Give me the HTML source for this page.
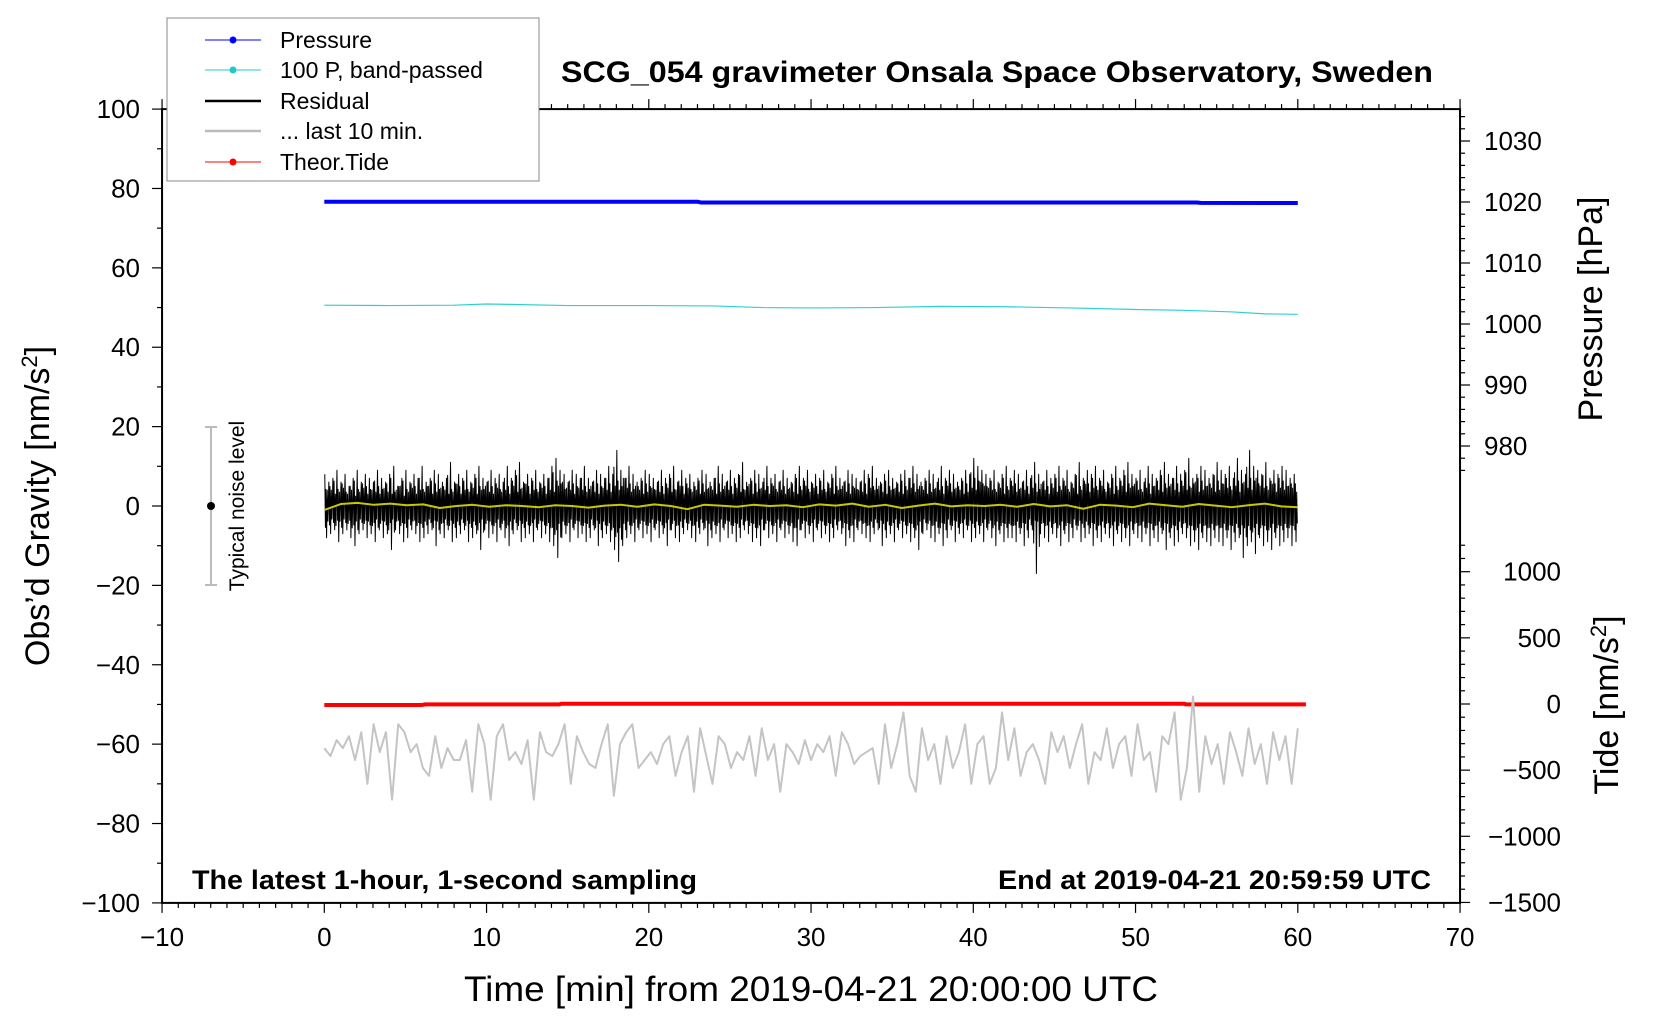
<!DOCTYPE html>
<html><head><meta charset="utf-8"><style>
html,body{margin:0;padding:0;background:#fff;}
svg{display:block;font-family:"Liberation Sans",Arial,sans-serif;}
</style></head><body>
<svg id="chart" width="1660" height="1020" viewBox="0 0 1660 1020" xmlns="http://www.w3.org/2000/svg">
<g id="axes"></g>
<g id="series"></g>
<text x="561" y="82" textLength="872" lengthAdjust="spacingAndGlyphs" font-size="30" font-weight="bold">SCG_054 gravimeter Onsala Space Observatory, Sweden</text>
<text x="192" y="889" textLength="505" lengthAdjust="spacingAndGlyphs" font-size="27" font-weight="bold">The latest 1‑hour, 1‑second sampling</text>
<text x="998" y="889" textLength="433" lengthAdjust="spacingAndGlyphs" font-size="27" font-weight="bold">End at 2019‑04‑21 20:59:59 UTC</text>
<text x="464" y="1001" textLength="694" lengthAdjust="spacingAndGlyphs" font-size="35">Time [min] from 2019‑04‑21 20:00:00 UTC</text>
<text transform="translate(49,506) rotate(-90)" text-anchor="middle" font-size="34">Obs’d Gravity [nm/s<tspan dy="-12" font-size="22">2</tspan><tspan dy="12">]</tspan></text>
<text transform="translate(1602,309) rotate(-90)" text-anchor="middle" font-size="34">Pressure [hPa]</text>
<text transform="translate(1618,705) rotate(-90)" text-anchor="middle" font-size="34">Tide [nm/s<tspan dy="-12" font-size="22">2</tspan><tspan dy="12">]</tspan></text>
<g>
<rect x="167" y="18" width="372" height="163" fill="#fff" stroke="#888" stroke-width="1"/>
<g><line x1="205" y1="40" x2="261" y2="40" stroke="#0000ff" stroke-width="1"/><circle cx="233" cy="40" r="3.5" fill="#0000ff"/><text x="280" y="48" font-size="23">Pressure</text></g>
<g><line x1="205" y1="70" x2="261" y2="70" stroke="#20c8c8" stroke-width="1"/><circle cx="233" cy="70" r="3.5" fill="#20c8c8"/><text x="280" y="78" font-size="23">100 P, band‑passed</text></g>
<g><line x1="205" y1="101" x2="261" y2="101" stroke="#000" stroke-width="2.5"/><text x="280" y="109" font-size="23">Residual</text></g>
<g><line x1="205" y1="131" x2="261" y2="131" stroke="#bbb" stroke-width="2.5"/><text x="280" y="139" font-size="23">... last 10 min.</text></g>
<g><line x1="205" y1="162" x2="261" y2="162" stroke="#ff0000" stroke-width="1"/><circle cx="233" cy="162" r="3.5" fill="#ff0000"/><text x="280" y="170" font-size="23">Theor.Tide</text></g>
</g>
<g>
<line x1="211" y1="427" x2="211" y2="585" stroke="#bbb" stroke-width="2"/>
<line x1="205" y1="427" x2="217" y2="427" stroke="#bbb" stroke-width="2"/>
<line x1="205" y1="585" x2="217" y2="585" stroke="#bbb" stroke-width="2"/>
<circle cx="211" cy="506" r="4" fill="#000"/>
<text transform="translate(244,506) rotate(-90)" text-anchor="middle" font-size="21">Typical noise level</text>
</g>
</svg>
<script>
// ---- data ----
const xTicks=[-10,0,10,20,30,40,50,60,70];
const gTicks=[100,80,60,40,20,0,-20,-40,-60,-80,-100];
const pTicks=[1030,1020,1010,1000,990,980];
const tTicks=[1000,500,0,-500,-1000,-1500];
const pressureT=[0,10,23,23.2,40,53.8,54,60];
const pressureV=[1020.05,1020.05,1020.05,1019.92,1019.92,1019.92,1019.86,1019.84];
const bandT=[0,4,8,10,11.5,15,20,24,27,30,34,38,42,46,50,53,56,58,60];
const bandV=[50.6,50.5,50.6,50.9,50.8,50.5,50.5,50.4,50.0,49.9,50.0,50.3,50.2,49.9,49.5,49.3,48.9,48.4,48.3];
const tideT=[0,6,6.2,14.5,14.6,30,53,53.1,60.5];
const tideV=[-8,-8,-3,-3,2,2,2,-3,-3];
const resMax=[8,6,7,9,6,8,5,7,9,6,8,7,6,9,7,6,8,10,5,7,
9,6,8,7,10,6,7,9,8,6,7,11,6,8,7,9,6,8,10,7,
6,9,7,8,6,10,7,9,11,6,8,7,9,6,8,7,10,12,9,8,
6,9,8,7,10,7,6,9,8,7,10,8,14,9,7,10,8,6,7,9,
8,7,6,9,7,8,10,6,9,7,8,6,7,9,8,6,7,10,8,6,
9,7,8,11,6,7,9,8,6,10,7,8,6,9,7,6,8,10,7,9,
6,8,7,9,6,8,10,7,6,9,8,7,6,9,8,10,7,6,8,9,
7,6,8,9,7,10,8,6,7,9,8,6,10,7,9,8,6,7,9,8,
12,10,9,8,7,9,6,8,10,7,9,8,6,9,7,11,8,6,9,7,
8,10,7,9,6,8,11,7,9,8,10,7,9,6,8,10,7,9,11,8,
7,9,6,10,8,7,9,11,8,7,10,8,9,12,7,8,10,9,7,8,
11,9,8,10,7,12,9,8,14,10,9,8,11,7,9,8,10,9,7,8];
const resMin=[-8,-7,-6,-9,-7,-6,-8,-10,-7,-6,-8,-7,-9,-6,-8,-7,-11,-6,-7,-9,
-8,-6,-7,-9,-8,-7,-6,-10,-7,-8,-6,-9,-8,-7,-6,-9,-8,-7,-11,-6,
-8,-7,-9,-6,-8,-10,-7,-6,-9,-8,-7,-9,-6,-8,-7,-9,-10,-13,-8,-7,
-9,-6,-8,-7,-9,-8,-6,-10,-8,-7,-9,-11,-14,-10,-8,-7,-9,-6,-8,-7,
-9,-6,-8,-7,-10,-6,-8,-9,-7,-6,-8,-9,-7,-6,-10,-8,-7,-9,-6,-8,
-7,-9,-8,-6,-7,-9,-8,-10,-6,-8,-7,-9,-6,-8,-7,-9,-10,-6,-8,-7,
-9,-6,-8,-7,-9,-8,-6,-7,-10,-8,-9,-6,-7,-8,-9,-7,-6,-10,-8,-7,
-9,-6,-8,-7,-9,-8,-11,-7,-6,-8,-9,-7,-10,-8,-6,-9,-7,-8,-6,-9,
-8,-7,-9,-6,-8,-10,-7,-9,-8,-8,-9,-7,-10,-8,-6,-17,-7,-8,-9,-7,
-8,-10,-7,-9,-8,-6,-9,-8,-7,-10,-8,-9,-7,-8,-10,-7,-9,-8,-10,-7,
-8,-9,-7,-10,-8,-9,-7,-11,-8,-10,-9,-7,-8,-10,-9,-11,-8,-9,-10,-8,
-9,-10,-8,-11,-9,-8,-13,-10,-9,-12,-8,-10,-9,-11,-8,-10,-9,-8,-10,-9];
const smoothV=[-1,0.5,0.8,0.3,0.6,0.2,0.4,-0.5,0,0.3,-0.2,0.2,0,-0.3,0.2,0,-0.4,0.1,0.3,-0.2,
0.4,0,-0.8,0.3,0.1,-0.2,0.3,0,0.2,-0.3,0.4,0.1,0.6,-0.2,0.3,-0.5,0.1,0.6,-0.1,0.2,
0,0.3,-0.2,0.5,-0.1,0.2,-0.7,0.3,0.1,-0.3,0.6,0.2,-0.2,0.5,0.1,-0.3,0.2,0.6,-0.1,-0.3];
const grayV=[-61,-63,-59,-61,-58,-64,-57,-70,-55,-62,-57,-74,-55,-57,-62,-60,-66,-68,-58,-66,-61,-64,
-64,-59,-72,-55,-60,-74,-58,-55,-64,-62,-65,-59,-74,-57,-62,-63,-60,-55,-70,-58,-62,-65,-66,-60,
-55,-73,-60,-57,-55,-66,-64,-62,-65,-60,-58,-68,-62,-58,-72,-56,-63,-70,-58,-60,-66,-62,-64,-58,
-68,-56,-64,-60,-72,-60,-62,-65,-59,-64,-60,-62,-58,-68,-57,-60,-65,-63,-62,-61,-70,-55,-66,-60,
-52,-68,-72,-56,-64,-60,-70,-58,-66,-62,-55,-70,-60,-58,-70,-66,-52,-64,-56,-68,-62,-60,-64,-70,
-57,-62,-58,-66,-60,-55,-70,-62,-64,-56,-66,-60,-58,-68,-55,-64,-62,-72,-58,-60,-52,-74,-66,-48,
-72,-58,-65,-60,-70,-57,-62,-68,-56,-65,-60,-70,-57,-64,-58,-70,-56];
// ---- scales ----
const X0=324.3, PX=16.225;
function xS(m){return X0+m*PX;}
function yG(v){return 506-v*3.969;}
function yP(p){return 202-(p-1020)*6.1;}
function yT(t){return 704-t*0.1323;}
const NS='http://www.w3.org/2000/svg';
function mk(tag,attrs,parent){const e=document.createElementNS(NS,tag);for(const k in attrs)e.setAttribute(k,attrs[k]);parent.appendChild(e);return e;}
const axes=document.getElementById('axes'), ser=document.getElementById('series');
const L=xS(-10),R=xS(70),T=yG(100),B=yG(-100);
const frame=mk('rect',{x:L,y:T,width:R-L,height:B-T,fill:'none',stroke:'#000','stroke-width':2},axes);


for(let m=-10;m<=70;m++){const major=m%10===0;const x=xS(m);const len=major?10:5;
 mk('line',{x1:x,y1:B,x2:x,y2:B+len,stroke:'#000','stroke-width':1.2},axes);
 mk('line',{x1:x,y1:T,x2:x,y2:T-len,stroke:'#000','stroke-width':1.2},axes);}
xTicks.forEach(m=>{const t=mk('text',{x:xS(m),y:946,'text-anchor':'middle','font-size':26},axes);t.textContent=String(m).replace('-','\u2212');
 
 });
for(let v=-100;v<=100;v+=10){const len=v%20===0?10:5;mk('line',{x1:L,y1:yG(v),x2:L-len,y2:yG(v),stroke:'#000','stroke-width':1.2},axes);}
gTicks.forEach(v=>{const t=mk('text',{x:140,y:yG(v)+9,'text-anchor':'end','font-size':26},axes);t.textContent=String(v).replace('-','\u2212');
 
 });
for(let p=976;p<=1034;p+=2){const y=yP(p);if(y<T||y>yP(976))continue;const len=p%10===0?10:5;mk('line',{x1:R,y1:y,x2:R+len,y2:y,stroke:'#000','stroke-width':1.2},axes);}
pTicks.forEach(p=>{const t=mk('text',{x:1484,y:yP(p)+9,'font-size':26},axes);t.textContent=p;
 
 });
for(let v=-1500;v<=1200;v+=100){const len=v%500===0?10:5;mk('line',{x1:R,y1:yT(v),x2:R+len,y2:yT(v),stroke:'#000','stroke-width':1.2},axes);}
tTicks.forEach(v=>{const t=mk('text',{x:1561,y:yT(v)+9,'text-anchor':'end','font-size':26},axes);t.textContent=String(v).replace('-','\u2212');
 
 });
function poly(pts,stroke,w,name){const p=mk('polyline',{points:pts.join(' '),fill:'none',stroke:stroke,'stroke-width':w,'stroke-linejoin':'round'},ser);
 
 return p;}
poly(pressureT.map((t,i)=>xS(t)+','+yP(pressureV[i])),'#0000ff',4,'pressure-line');
poly(bandT.map((t,i)=>xS(t)+','+yG(bandV[i])),'#30d0d0',1.2,'band-passed-pressure-line');
poly(tideT.map((t,i)=>xS(t)+','+yT(tideV[i])),'#ff0000',4,'theoretical-tide-line');
const gp=[];grayV.forEach((v,i)=>gp.push(xS(i*60/(grayV.length-1))+','+yG(v)));
poly(gp,'#c4c4c4',2,'last-10-min-line');
const rp=[];const n=resMax.length;
for(let i=0;i<n;i++){const t0=i*60/n;const j=(i+1)%n,k=(i+n-1)%n;
 rp.push(xS(t0+0.03)+','+yG(resMax[i]));
 rp.push(xS(t0+0.07)+','+yG(resMin[k]*0.6));
 rp.push(xS(t0+0.10)+','+yG(resMax[j]*0.7));
 rp.push(xS(t0+0.14)+','+yG(resMin[i]));
 rp.push(xS(t0+0.18)+','+yG(resMax[k]*0.5));
 rp.push(xS(t0+0.22)+','+yG(resMin[j]*0.55));}
poly(rp,'#000',1,'residual-line');
poly(smoothV.map((v,i)=>xS(i*60/(smoothV.length-1))+','+yG(v)),'#c8c800',2,'residual-smoothed-line');
</script>
</body></html>
